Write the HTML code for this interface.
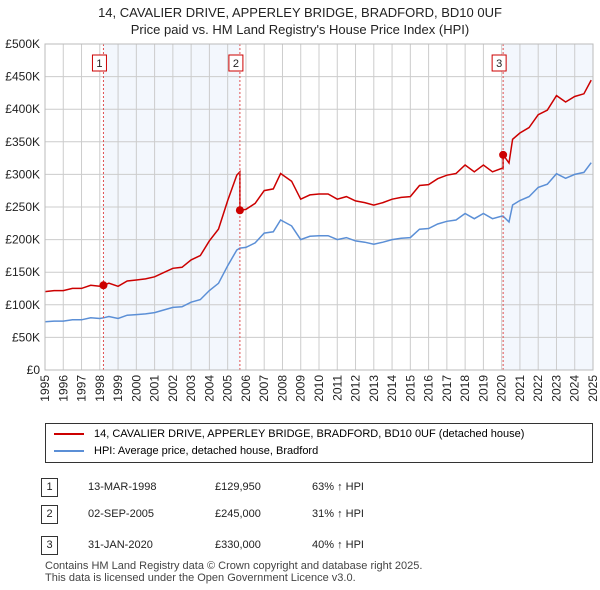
<!DOCTYPE html>
<html><head><meta charset="utf-8"><style>
body{margin:0;background:#fff;font-family:"Liberation Sans","DejaVu Sans",sans-serif;}
#wrap{position:relative;width:600px;height:590px;overflow:hidden;}
.t{position:absolute;font-size:12px;color:#222;}
</style></head><body>
<div id="wrap">
<div class="t" style="left:0;width:600px;text-align:center;top:4px;font-size:13px;line-height:17px;">14, CAVALIER DRIVE, APPERLEY BRIDGE, BRADFORD, BD10 0UF<br>Price paid vs. HM Land Registry's House Price Index (HPI)</div>
<svg id="chart" width="600" height="420" style="position:absolute;left:0;top:0" font-family="Liberation Sans, DejaVu Sans, sans-serif"></svg>
<div style="position:absolute;left:45px;top:423px;width:546px;height:38px;border:1px solid #333;">
 <div style="position:absolute;left:8px;top:4px;font-size:11px;"><span style="display:inline-block;width:30px;border-top:2px solid #cc0000;vertical-align:middle;margin-right:10px;"></span>14, CAVALIER DRIVE, APPERLEY BRIDGE, BRADFORD, BD10 0UF (detached house)</div>
 <div style="position:absolute;left:8px;top:21px;font-size:11px;"><span style="display:inline-block;width:30px;border-top:2px solid #5b8fd6;vertical-align:middle;margin-right:10px;"></span>HPI: Average price, detached house, Bradford</div>
</div>
<div id="rows"></div>
<div class="t" style="left:45px;top:560px;font-size:11px;line-height:12px;color:#444;">Contains HM Land Registry data © Crown copyright and database right 2025.<br>This data is licensed under the Open Government Licence v3.0.</div>
</div>
<script>
const years=[1995,1995.5,1996,1996.5,1997,1997.5,1998,1998.2,1998.5,1999,1999.5,2000,2000.5,2001,2001.5,2002,2002.5,2003,2003.5,2004,2004.5,2005,2005.5,2005.67,2006,2006.5,2007,2007.5,2007.9,2008.5,2009,2009.5,2010,2010.5,2011,2011.5,2012,2012.5,2013,2013.5,2014,2014.5,2015,2015.5,2016,2016.5,2017,2017.5,2018,2018.5,2019,2019.5,2020,2020.08,2020.4,2020.6,2021,2021.5,2022,2022.5,2023,2023.5,2024,2024.5,2024.9];
const hpi=[74,75,75,77,77,80,79,80,82,79,84,85,86,88,92,96,97,104,108,122,133,160,184,187,188,195,210,212,230,221,200,205,206,206,200,203,198,196,193,196,200,202,203,216,217,224,228,230,240,232,240,232,236,236,227,253,260,266,280,285,301,294,300,303,318];
const saleYears=[1998.2,2005.67,2020.08];
const salePrices=[129950,245000,330000];
const saleLabels=["1","2","3"];
const yTicks=[0,50,100,150,200,250,300,350,400,450,500];
const yLabels=["£0","£50K","£100K","£150K","£200K","£250K","£300K","£350K","£400K","£450K","£500K"];
const saleDates=["13-MAR-1998","02-SEP-2005","31-JAN-2020"];
const salePriceText=["£129,950","£245,000","£330,000"];
const saleDiff=["63% ↑ HPI","31% ↑ HPI","40% ↑ HPI"];

const X0=45,X1=593,Y0=370,Y1=44;
const xs=y=>X0+(y-1995)/30*(X1-X0);
const ys=v=>Y0-v/500*(Y0-Y1);
const svg=document.getElementById('chart');
const NS='http://www.w3.org/2000/svg';
function mk(tag,attrs){const e=document.createElementNS(NS,tag);for(const k in attrs)e.setAttribute(k,attrs[k]);svg.appendChild(e);return e;}
// shading
let sh=mk('rect',{x:xs(saleYears[0]),y:Y1,width:xs(saleYears[1])-xs(saleYears[0]),height:Y0-Y1,fill:'#eef3fc',opacity:0.7});


let sh2=mk('rect',{x:xs(saleYears[2]),y:Y1,width:X1-xs(saleYears[2]),height:Y0-Y1,fill:'#eef3fc',opacity:0.7});


// grid
for(let i=0;i<yTicks.length;i++){
 let l=mk('line',{x1:X0,x2:X1,y1:ys(yTicks[i]),y2:ys(yTicks[i]),stroke:'#ccc'});
 
 
 let t=mk('text',{x:X0-5,y:ys(yTicks[i])+4,'text-anchor':'end','font-size':12,fill:'#222'});
 t.textContent=yLabels[i];
 
 
}
for(let y=1995;y<=2025;y++){
 let l=mk('line',{x1:xs(y),x2:xs(y),y1:Y1,y2:Y0,stroke:'#ccc'});
 
 
 let t=mk('text',{x:0,y:0,'text-anchor':'end','font-size':12,fill:'#222',transform:`translate(${xs(y)+4},${Y0+5}) rotate(-90)`});
 t.textContent=y;
 
 
}
// HPI line
let d='';years.forEach((y,i)=>{d+=(i?'L':'M')+xs(y).toFixed(1)+','+ys(hpi[i]).toFixed(1);});
let hl=mk('path',{d:d,fill:'none',stroke:'#5b8fd6','stroke-width':1.5});


// property line: HPI scaled by most recent sale ratio
function hpiAt(t){for(let i=1;i<years.length;i++){if(t<=years[i]){const f=(t-years[i-1])/(years[i]-years[i-1]);return hpi[i-1]+f*(hpi[i]-hpi[i-1]);}}return hpi[hpi.length-1];}
const ratios=saleYears.map((s,i)=>salePrices[i]/1000/hpiAt(s));
let pts=[];
years.forEach((y,i)=>{
 let k=0;for(let j=0;j<saleYears.length;j++)if(y>=saleYears[j])k=j;
 if(saleYears.includes(y)&&y!==saleYears[0]){const j=saleYears.indexOf(y);pts.push([y,hpi[i]*ratios[j-1]]);}
 pts.push([y,hpi[i]*ratios[k]]);
});
let d2='';pts.forEach((p,i)=>{d2+=(i?'L':'M')+xs(p[0]).toFixed(1)+','+ys(p[1]).toFixed(1);});
let rl=mk('path',{d:d2,fill:'none',stroke:'#cc0000','stroke-width':1.5});


// sale markers
saleYears.forEach((s,i)=>{
 let v=mk('line',{x1:xs(s),x2:xs(s),y1:Y1,y2:Y0,stroke:'#e05050','stroke-dasharray':'2,2'});
 
 
 let c=mk('circle',{cx:xs(s),cy:ys(salePrices[i]/1000),r:4,fill:'#cc0000'});
 
 
 let b=mk('rect',{x:xs(s)-11,y:55,width:14,height:16,fill:'#fff',stroke:'#cc0000'});
 
 
 let t=mk('text',{x:xs(s)-4,y:67,'text-anchor':'middle','font-size':11,fill:'#222'});
 t.textContent=saleLabels[i];
 
 
});
let ax=mk('rect',{x:X0,y:Y1,width:X1-X0,height:Y0-Y1,fill:'none',stroke:'#bbb'});


// table rows
const rows=document.getElementById('rows');
const rowY=[478,505,536];
saleLabels.forEach((lab,i)=>{
 const r=document.createElement('div');
 
 
 r.style.cssText=`position:absolute;left:0;top:${rowY[i]}px;width:600px;height:20px;font-size:11px;color:#222;`;
 r.innerHTML=`<span style="position:absolute;left:41px;top:0;width:15px;height:17px;border:1px solid #333;text-align:center;line-height:17px;">${lab}</span><span style="position:absolute;left:88px;top:3px;">${saleDates[i]}</span><span style="position:absolute;left:215px;top:3px;">${salePriceText[i]}</span><span style="position:absolute;left:312px;top:3px;">${saleDiff[i]}</span>`;
 rows.appendChild(r);
});
</script>
</body></html>
